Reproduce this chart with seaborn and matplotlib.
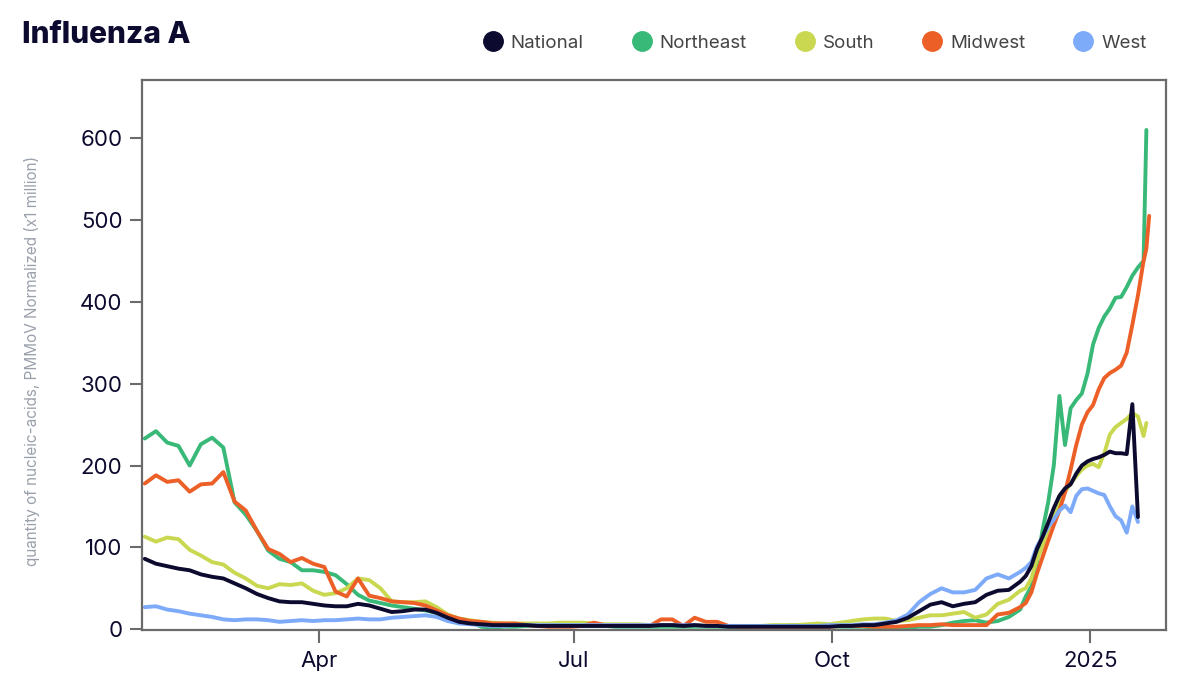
import numpy as np
import pandas as pd
import seaborn as sns
import matplotlib.pyplot as plt
from matplotlib.lines import Line2D

nan = np.nan

# sample dates: every 4 days until early December, then every 2 days
dates = (list(pd.date_range("2024-01-30", "2024-12-07", freq="4D"))
         + list(pd.date_range("2024-12-09", "2025-01-20", freq="2D"))
         + [pd.Timestamp("2025-01-21"), pd.Timestamp("2025-01-22")])

national = [86, 80, 77, 74, 72, 67, 64, 62, 56, 50,
            43, 38, 34, 33, 33, 31, 29, 28, 28, 31,
            29, 25, 21, 22, 24, 24, 20, 14, 9, 7,
            6, 5, 5, 5, 5, 4, 4, 4, 4, 4,
            4, 4, 4, 4, 4, 4, 5, 5, 4, 5,
            4, 4, 3, 3, 3, 3, 3, 3, 3, 3,
            3, 3, 4, 4, 5, 5, 7, 9, 14, 22,
            30, 33, 28, 31, 33, 42, 47, 48, 58,
            65, 77, 98, 113, 130, 148, 163, 172, 177, 190, 200, 205,
            208, 210, 213, 217, 215, 215, 214, 275, 137, nan, nan, nan]

northeast = [233, 242, 228, 224, 200, 226, 234, 222, 155, 140,
             120, 96, 86, 82, 72, 72, 70, 66, 55, 42,
             35, 32, 29, 27, 25, 23, 20, 15, 12, 9,
             3, 2, 3, 3, 4, 4, 4, 4, 4, 4,
             4, 4, 3, 3, 3, 3, 3, 3, 3, 3,
             3, 3, 3, 3, 3, 4, 4, 4, 5, 5,
             4, 4, 3, 3, 3, 2, 1, 1, 2, 3,
             3, 5, 8, 10, 11, 8, 10, 15, 24,
             40, 52, 82, 121, 155, 200, 285, 225, 270, 280, 288, 312,
             348, 368, 382, 392, 405, 406, 418, 432, 442, 450, 610, nan]

south = [113, 107, 112, 110, 97, 90, 82, 79, 69, 62,
         53, 50, 55, 54, 56, 47, 42, 44, 50, 62,
         60, 50, 34, 33, 33, 34, 27, 18, 13, 11,
         9, 8, 7, 7, 7, 7, 7, 8, 8, 8,
         7, 6, 6, 6, 6, 5, 5, 5, 5, 5,
         4, 4, 4, 4, 4, 4, 5, 5, 5, 6,
         7, 6, 8, 10, 12, 13, 13, 10, 11, 14,
         17, 17, 19, 21, 14, 18, 31, 36, 47,
         50, 62, 85, 101, 122, 140, 155, 168, 178, 187, 195, 200,
         202, 198, 215, 238, 247, 252, 257, 264, 260, 236, 252, nan]

midwest = [178, 188, 180, 182, 168, 177, 178, 192, 156, 145,
           120, 98, 92, 82, 87, 80, 76, 46, 40, 62,
           41, 38, 34, 33, 32, 29, 23, 17, 13, 10,
           9, 7, 7, 7, 5, 4, 3, 3, 3, 4,
           8, 5, 5, 5, 5, 4, 12, 12, 4, 14,
           9, 9, 4, 3, 3, 3, 3, 3, 3, 3,
           3, 3, 4, 4, 4, 3, 3, 3, 4, 5,
           5, 6, 5, 5, 5, 5, 18, 20, 27,
           32, 45, 68, 88, 108, 127, 145, 167, 195, 225, 250, 265,
           274, 293, 307, 313, 317, 322, 338, 372, 408, 450, 465, 505]

west = [27, 28, 24, 22, 19, 17, 15, 12, 11, 12,
        12, 11, 9, 10, 11, 10, 11, 11, 12, 13,
        12, 12, 14, 15, 16, 17, 15, 10, 7, 6,
        5, 4, 4, 5, 5, 5, 5, 5, 5, 5,
        5, 5, 5, 5, 5, 5, 5, 5, 5, 5,
        4, 4, 4, 4, 4, 4, 4, 4, 4, 4,
        4, 5, 5, 5, 6, 6, 8, 11, 18, 33,
        43, 50, 45, 45, 48, 62, 67, 62, 70,
        75, 82, 101, 113, 125, 134, 145, 151, 143, 163, 171, 172,
        169, 166, 164, 150, 138, 133, 118, 150, 131, nan, nan, nan]

regions = ["National", "Northeast", "South", "Midwest", "West"]
colors = {"National": "#0c0a2e", "Northeast": "#39b978", "South": "#c9d850",
          "Midwest": "#ec6028", "West": "#7daaf9"}

df = pd.DataFrame({"date": dates, "National": national, "Northeast": northeast,
                   "South": south, "Midwest": midwest, "West": west})
long_df = df.melt(id_vars="date", var_name="region", value_name="value").dropna()

sns.set_style("white")
plt.rcParams['font.family'] = ['Inter', 'DejaVu Sans']

fig = plt.figure(figsize=(11.92, 6.96), dpi=100)
ax = fig.add_axes([0.1191, 0.0948, 0.8591, 0.7902])

# draw order: national last so it sits on top
sns.lineplot(data=long_df, x="date", y="value", hue="region",
             hue_order=["Northeast", "South", "Midwest", "West", "National"],
             palette=colors, estimator=None, linewidth=2.8, legend=False, ax=ax)

ax.set_xlim(pd.Timestamp("2024-01-29"), pd.Timestamp("2025-01-28"))
ax.set_ylim(-1, 671)
ax.set_yticks([0, 100, 200, 300, 400, 500, 600])
ax.set_xticks([pd.Timestamp("2024-04-01"), pd.Timestamp("2024-07-01"),
               pd.Timestamp("2024-10-01"), pd.Timestamp("2025-01-01")])
ax.set_xticklabels(["Apr", "Jul", "Oct", "2025"])

for s in ax.spines.values():
    s.set_color("#6b6b6b")
    s.set_linewidth(1.6)

ax.tick_params(axis="both", direction="out", length=9, width=1.5, color="#6b6b6b",
               labelsize=16, labelcolor="#0c0a2e")
ax.tick_params(axis="y", pad=5)
ax.tick_params(axis="x", pad=6)
ax.tick_params(left=True, bottom=True)

ax.set_xlabel("")
ax.set_ylabel("quantity of nucleic-acids, PMMoV Normalized (x1 million)",
              fontsize=11, color="#9aa0ab")
ax.yaxis.set_label_coords(-0.1, 0.49)

fig.text(0.0185, 0.949, "Influenza A", fontsize=21.5, fontweight="heavy",
         color="#0c0a2e", va="center", ha="left")

handles = [Line2D([0], [0], marker="o", linestyle="", markersize=14,
                  markerfacecolor=colors[r], markeredgecolor=colors[r]) for r in regions]
leg = fig.legend(handles, regions, loc="center right", bbox_to_anchor=(0.976, 0.938),
                 ncol=5, frameon=False, fontsize=13.5, handletextpad=0.45,
                 columnspacing=2.6, handlelength=1.0)
for t in leg.get_texts():
    t.set_color("#444444")

fig.savefig("out.png", dpi=100)
